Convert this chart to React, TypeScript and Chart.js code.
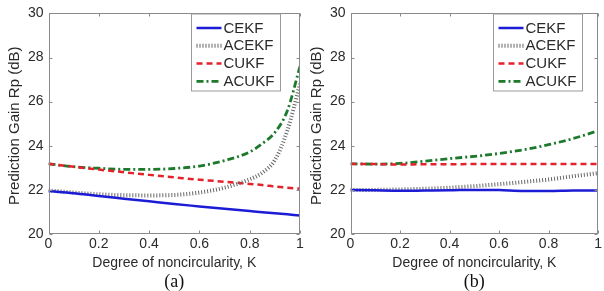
import React, { useEffect, useRef } from 'react';
import { Chart, registerables } from 'chart.js';

Chart.register(...registerables);

// ---------- data ----------
const SERIES_NAMES = ['CEKF', 'ACEKF', 'CUKF', 'ACUKF'];
const X_TICKS = [0, 0.2, 0.4, 0.6, 0.8, 1];
const Y_TICKS = [20, 22, 24, 26, 28, 30];

// panel (a)
const K_A = [0, 0.1, 0.2, 0.3, 0.4, 0.5, 0.6, 0.7, 0.8, 0.85, 0.9, 0.95, 1];
const CEKF_A = [21.95, 21.85, 21.72, 21.6, 21.48, 21.36, 21.25, 21.14, 21.04, 20.99, 20.94, 20.89, 20.84];
const ACEKF_A = [21.97, 21.88, 21.8, 21.76, 21.75, 21.77, 21.88, 22.1, 22.48, 22.78, 23.35, 24.7, 26.8];
const CUKF_A = [23.18, 23.05, 22.92, 22.8, 22.68, 22.57, 22.46, 22.37, 22.27, 22.22, 22.15, 22.1, 22.05];
const ACUKF_A = [23.18, 23.05, 22.98, 22.93, 22.93, 22.97, 23.08, 23.33, 23.72, 24.1, 24.6, 25.6, 27.6];

// panel (b)
const K_B = [0, 0.1, 0.2, 0.3, 0.4, 0.5, 0.6, 0.7, 0.8, 0.9, 1];
const CEKF_B = [22.0, 21.98, 21.96, 21.97, 21.98, 22.0, 21.99, 21.95, 21.95, 21.97, 21.97];
const ACEKF_B = [22.0, 22.0, 22.02, 22.05, 22.1, 22.17, 22.26, 22.36, 22.47, 22.62, 22.76];
const CUKF_B = [23.18, 23.17, 23.15, 23.16, 23.16, 23.17, 23.17, 23.17, 23.17, 23.17, 23.17];
const ACUKF_B = [23.18, 23.17, 23.2, 23.3, 23.42, 23.52, 23.65, 23.82, 24.05, 24.33, 24.68];

const X_TITLE = 'Degree of noncircularity, K';
const Y_TITLE = 'Prediction Gain Rp (dB)';

// ---------- styles ----------
const STYLES = [
  { color: '#1c1cd6', width: 2.5, dash: [] as number[] },
  { color: '#666666', width: 4, dash: [1, 2] },
  { color: '#e3222b', width: 2.5, dash: [6, 4] },
  { color: '#1d7a2c', width: 2.8, dash: [7, 3, 2, 3] },
];
const SANS = '"Liberation Sans", Arial, Helvetica, sans-serif';
const TEXT_COLOR = '#2a2a2a';
const AXIS_COLOR = '#8a8a8a';

function decorPlugin(panelLabel: string) {
  return {
    id: 'decor',
    afterDraw(chart: any) {
      const { ctx, chartArea } = chart;
      const { left, right, top, bottom } = chartArea;
      const xs = chart.scales.x;
      const ys = chart.scales.y;
      const L = Math.round(left) + 0.5;
      const R = Math.round(right) - 0.5;
      const T = Math.round(top) + 0.5;
      const B = Math.round(bottom) - 0.5;
      ctx.save();
      // box
      ctx.strokeStyle = AXIS_COLOR;
      ctx.lineWidth = 1;
      ctx.setLineDash([]);
      ctx.strokeRect(L, T, R - L, B - T);
      // inward ticks
      ctx.beginPath();
      X_TICKS.forEach((v) => {
        const x = Math.round(xs.getPixelForValue(v)) + 0.5;
        ctx.moveTo(x, B); ctx.lineTo(x, B - 3);
        ctx.moveTo(x, T); ctx.lineTo(x, T + 3);
      });
      Y_TICKS.forEach((v) => {
        const y = Math.round(ys.getPixelForValue(v)) + 0.5;
        ctx.moveTo(L, y); ctx.lineTo(L + 3, y);
        ctx.moveTo(R, y); ctx.lineTo(R - 3, y);
      });
      ctx.stroke();

      // legend
      const bx = L + 142;
      const by = T + 0.5;
      const bw = 89;
      const bh = 77;
      ctx.fillStyle = '#ffffff';
      ctx.fillRect(bx, by, bw, bh);
      ctx.strokeStyle = '#9a9a9a';
      ctx.strokeRect(bx, by, bw, bh);
      ctx.font = `15px ${SANS}`;
      ctx.textBaseline = 'middle';
      ctx.textAlign = 'left';
      chart.data.datasets.forEach((ds: any, i: number) => {
        const y = by + 14 + i * 17.8;
        ctx.beginPath();
        ctx.strokeStyle = ds.borderColor;
        ctx.lineWidth = ds.borderWidth;
        ctx.setLineDash(ds.borderDash || []);
        ctx.moveTo(bx + 5, y);
        ctx.lineTo(bx + 30, y);
        ctx.stroke();
        ctx.setLineDash([]);
        ctx.fillStyle = TEXT_COLOR;
        ctx.fillText(ds.label, bx + 32, y + 0.5);
      });

      // axis titles
      const cx = (left + right) / 2;
      ctx.fillStyle = TEXT_COLOR;
      ctx.font = `14px ${SANS}`;
      ctx.textAlign = 'center';
      ctx.textBaseline = 'middle';
      ctx.fillText(X_TITLE, cx, bottom + 29);
      ctx.save();
      ctx.font = `15px ${SANS}`;
      ctx.translate(left - 34, (top + bottom) / 2 + 2);
      ctx.rotate(-Math.PI / 2);
      ctx.fillText(Y_TITLE, 0, 0);
      ctx.restore();
      // panel label
      ctx.fillStyle = '#111';
      ctx.font = `18px "Liberation Serif", "Times New Roman", serif`;
      ctx.fillText(panelLabel, cx, bottom + 48);
      ctx.restore();
    },
  };
}

function Panel(props: { k: number[]; series: number[][]; label: string; width: number; left: number }) {
  const ref = useRef<HTMLCanvasElement>(null);
  useEffect(() => {
    if (!ref.current) return;
    const datasets = SERIES_NAMES.map((name, i) => ({
      label: name,
      data: props.k.map((x, j) => ({ x, y: props.series[i][j] })),
      borderColor: STYLES[i].color,
      borderWidth: STYLES[i].width,
      borderDash: STYLES[i].dash,
      pointRadius: 0,
      fill: false,
      cubicInterpolationMode: 'monotone' as const,
    }));
    const chart = new Chart(ref.current, {
      type: 'line',
      data: { datasets },
      options: {
        responsive: false,
        animation: false,
        devicePixelRatio: 1,
        layout: { padding: { left: 0, right: props.width - 300, top: 13, bottom: 0 } },
        scales: {
          x: {
            type: 'linear',
            min: 0,
            max: 1,
            afterBuildTicks: (s: any) => { s.ticks = X_TICKS.map((v) => ({ value: v })); },
            afterFit: (s: any) => { s.height = 57; },
            grid: { display: false, drawTicks: false },
            border: { display: false },
            ticks: {
              padding: 2,
              color: TEXT_COLOR,
              font: { family: SANS, size: 14 },
              maxRotation: 0,
              autoSkip: false,
              callback: (v: any) => String(v),
            },
          },
          y: {
            type: 'linear',
            min: 20,
            max: 30,
            afterBuildTicks: (s: any) => { s.ticks = Y_TICKS.map((v) => ({ value: v })); },
            afterFit: (s: any) => { s.width = 48.5; },
            grid: { display: false, drawTicks: false },
            border: { display: false },
            ticks: {
              padding: 5,
              color: TEXT_COLOR,
              font: { family: SANS, size: 14 },
              autoSkip: false,
              callback: (v: any) => String(v),
            },
          },
        },
        plugins: {
          legend: { display: false },
          tooltip: { enabled: false },
          title: { display: false },
        },
      },
      plugins: [decorPlugin(props.label)],
    });
    return () => chart.destroy();
  }, []);
  return (
    <canvas
      ref={ref}
      width={props.width}
      height={291}
      style={{ position: 'absolute', left: props.left, top: 0, width: props.width, height: 291 }}
    />
  );
}

export default function App() {
  return (
    <div style={{ position: 'absolute', left: 0, top: 0, width: 604, height: 291, background: '#fff', overflow: 'hidden' }}>
      <Panel k={K_A} series={[CEKF_A, ACEKF_A, CUKF_A, ACUKF_A]} label="(a)" width={316} left={0} />
      <Panel k={K_B} series={[CEKF_B, ACEKF_B, CUKF_B, ACUKF_B]} label="(b)" width={302} left={302} />
    </div>
  );
}
